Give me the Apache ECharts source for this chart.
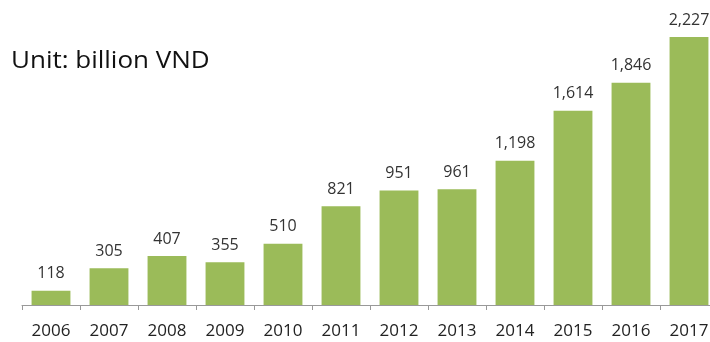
<!DOCTYPE html>
<html><head><meta charset="utf-8">
<script src="https://cdn.jsdelivr.net/npm/echarts@6/dist/echarts.min.js"></script>
<style>html,body{margin:0;padding:0;background:#fff;overflow:hidden}#c{width:724px;height:342px}</style>
</head><body><div id="c"></div>
<script>
const years = ['2006','2007','2008','2009','2010','2011','2012','2013','2014','2015','2016','2017'];
const values = [118,305,407,355,510,821,951,961,1198,1614,1846,2227];
const unitLabel = 'Unit: billion VND';
const chart = echarts.init(document.getElementById('c'));
chart.setOption({
  animation:false,
  graphic:[{type:'text',x:11,y:61,scaleX:1.13,
    style:{text:unitLabel,font:'23px "Open Sans"',fill:'#111',verticalAlign:'middle',align:'left'}}],
  grid:{left:22,top:37,width:696,bottom:37,containLabel:false},
  xAxis:{type:'category',data:years,
    axisLine:{lineStyle:{color:'#999',width:1}},
    axisTick:{show:true,length:5,lineStyle:{color:'#999'}},
    axisLabel:{fontFamily:'Open Sans',fontSize:17,color:'#222',margin:18}},
  yAxis:{type:'value',min:0,max:2227,show:false,splitLine:{show:false}},
  series:[{type:'bar',data:values,barWidth:'67%',itemStyle:{color:'#9bbb59'},
    label:{show:true,position:'top',distance:9,fontFamily:'Open Sans',fontSize:16,color:'#333',
      formatter:p=>p.value.toLocaleString('en-US')}}]
});
</script></body></html>
